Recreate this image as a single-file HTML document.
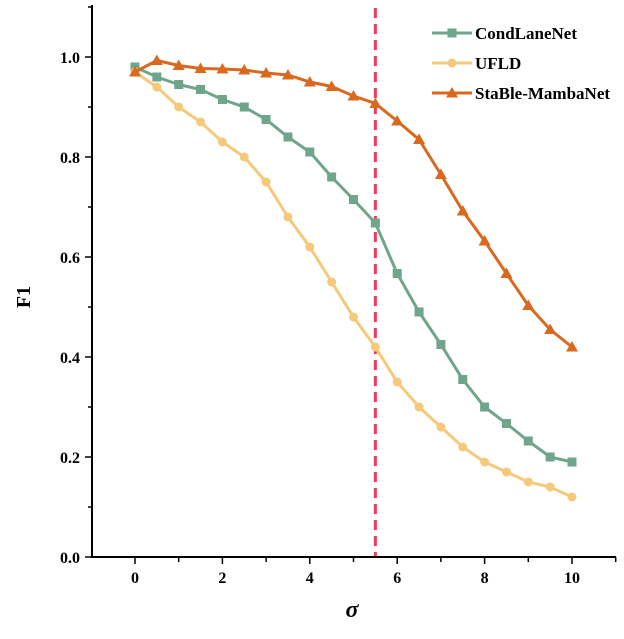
<!DOCTYPE html>
<html><head><meta charset="utf-8"><style>
body{margin:0;background:#fff}
svg text{font-family:"Liberation Serif",serif;font-weight:bold;fill:#000}
</style></head><body>
<svg width="624" height="634" xmlns="http://www.w3.org/2000/svg">
<g id="axes"></g><g id="plot"></g><g id="legend"></g>
</svg>
<script>
const xs=[0,0.5,1,1.5,2,2.5,3,3.5,4,4.5,5,5.5,6,6.5,7,7.5,8,8.5,9,9.5,10];
const condLaneNet=[0.98,0.96,0.945,0.935,0.915,0.9,0.875,0.84,0.81,0.76,0.715,0.668,0.567,0.49,0.425,0.355,0.3,0.267,0.232,0.2,0.19];
const ufld=[0.97,0.94,0.9,0.87,0.83,0.8,0.75,0.68,0.62,0.55,0.48,0.42,0.35,0.3,0.26,0.22,0.19,0.17,0.15,0.14,0.12];
const stableMamba=[0.97,0.993,0.983,0.977,0.976,0.974,0.968,0.964,0.95,0.941,0.922,0.907,0.872,0.835,0.765,0.692,0.632,0.567,0.503,0.455,0.42];
const xTicks=[0,2,4,6,8,10];
const yTicks=[0,0.2,0.4,0.6,0.8,1.0];
const threshold=5.5;
const NS="http://www.w3.org/2000/svg";
const X=v=>135+v*43.7, Y=v=>557-v*500;
function mk(t,a,p){const e=document.createElementNS(NS,t);for(const k in a)e.setAttribute(k,a[k]);p.appendChild(e);return e;}
const ax=document.getElementById('axes'),pl=document.getElementById('plot'),lg=document.getElementById('legend');
let e;
e=mk('line',{x1:92,y1:557,x2:616,y2:557,stroke:'#000','stroke-width':2},ax);


e=mk('line',{x1:92,y1:5,x2:92,y2:558,stroke:'#000','stroke-width':2},ax);


for(let v=-1;v<=11;v++){const x=X(v);if(x<92||x>616)continue;mk('line',{x1:x,y1:557,x2:x,y2:v%2==0?564:562,stroke:'#000','stroke-width':1.5},ax);}
xTicks.forEach(v=>{e=mk('text',{x:X(v),y:583,'text-anchor':'middle','font-size':16},ax);e.textContent=v;

});
for(let i=0;i<=11;i++){const v=i/10;const y=Y(v);mk('line',{x1:92,y1:y,x2:i%2==0?85:88,y2:y,stroke:'#000','stroke-width':1.5},ax);}
yTicks.forEach(v=>{e=mk('text',{x:80,y:Y(v)+6,'text-anchor':'end','font-size':16},ax);e.textContent=v.toFixed(1);

});
e=mk('text',{x:352,y:617,'text-anchor':'middle','font-size':24,'font-style':'italic','font-weight':'normal'},ax);e.textContent='σ';


e=mk('text',{x:0,y:0,'text-anchor':'middle','font-size':20,transform:'translate(30,297) rotate(-90)'},ax);e.textContent='F1';


e=mk('line',{x1:X(threshold),y1:8,x2:X(threshold),y2:556,stroke:'#f03a5f','stroke-width':3,'stroke-dasharray':'10,6'},pl);


function marker(type,x,y,c,p){
 if(type=='sq')return mk('rect',{x:x-4.5,y:y-4.5,width:9,height:9,fill:c},p);
 if(type=='ci')return mk('circle',{cx:x,cy:y,r:4.5,fill:c},p);
 return mk('polygon',{points:`${x},${y-6} ${x-6},${y+4.5} ${x+6},${y+4.5}`,fill:c},p);
}
const series=[['condlanenet',condLaneNet,'#6fa58a','sq','CondLaneNet'],['ufld',ufld,'#f5c97a','ci','UFLD'],['stable-mambanet',stableMamba,'#d9691f','tr','StaBle-MambaNet']];
series.forEach((s,si)=>{
 const g=mk('g',{},pl);
 
 
 mk('polyline',{points:s[1].map((v,i)=>X(xs[i])+','+Y(v)).join(' '),fill:'none',stroke:s[2],'stroke-width':3},g);
 s[1].forEach((v,i)=>{const m=marker(s[3],X(xs[i]),Y(v),s[2],g);
 
 });
 const ly=[33,63,93][si];
 const lgE=mk('g',{},lg);
 
 
 mk('line',{x1:432,y1:ly,x2:472,y2:ly,stroke:s[2],'stroke-width':3},lgE);
 marker(s[3],452,ly,s[2],lgE);
 const t=mk('text',{x:475,y:ly+6,'font-size':17},lgE);t.textContent=s[4];
});
</script>
</body></html>
